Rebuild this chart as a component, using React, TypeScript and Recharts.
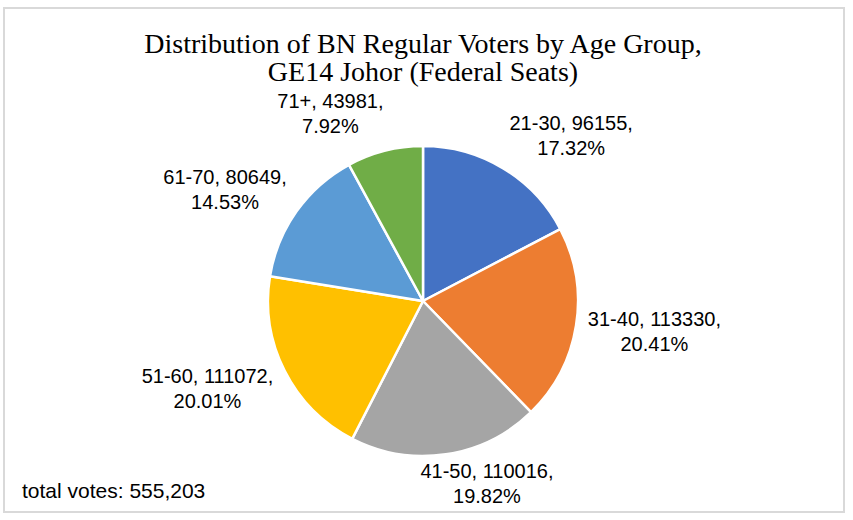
import React from 'react';
import { PieChart, Pie, Cell } from 'recharts';

const ageGroups = ['21-30', '31-40', '41-50', '51-60', '61-70', '71+'];
const voters = [96155, 113330, 110016, 111072, 80649, 43981];
const sliceColors = ['#4472C4', '#ED7D31', '#A5A5A5', '#FFC000', '#5B9BD5', '#70AD47'];
const totalLabel = 'total votes: 555,203';

const total = voters.reduce((a, b) => a + b, 0);
const data = ageGroups.map((name, i) => ({ name, value: voters[i] }));

const LABEL_FONT = '"Liberation Sans", Arial, sans-serif';
const RAD = Math.PI / 180;

const renderLabel = (props: any) => {
  const { cx, cy, midAngle, outerRadius, name, value } = props;
  const s = Math.cos(midAngle * RAD);
  const c = Math.sin(midAngle * RAD);
  const r = outerRadius + 12;
  const px = cx + r * s;
  const py = cy - r * c;
  const line1 = `${name}, ${value},`;
  const line2 = `${((value / total) * 100).toFixed(2)}%`;
  const w = Math.max(line1.length, line2.length) * 9.5;
  const h = 52;
  const fx = Math.max(-1, Math.min(1, s * 4));
  const bx = px + (fx * w) / 2;
  let by = py - (c * h) / 2;
  by = Math.min(by, 509 - h / 2);
  return (
    <text
      x={bx}
      y={by}
      textAnchor="middle"
      fill="#000"
      style={{ fontFamily: LABEL_FONT, fontSize: 20 }}
    >
      <tspan x={bx} y={by - 12.5} dominantBaseline="central">{line1}</tspan>
      <tspan x={bx} y={by + 12.5} dominantBaseline="central">{line2}</tspan>
    </text>
  );
};

const App = () => {
  return (
    <div style={{ position: 'absolute', left: 0, top: 0, width: 853, height: 520, background: '#fff' }}>
      <div
        style={{
          position: 'absolute',
          left: 3,
          top: 7,
          width: 838,
          height: 502,
          border: '2px solid #d9d9d9',
        }}
      />
      <div
        style={{
          position: 'absolute',
          left: 0,
          top: 30,
          width: 846,
          textAlign: 'center',
          fontFamily: '"Liberation Serif", serif',
          fontSize: 28,
          lineHeight: '28px',
          color: '#000',
        }}
      >
        Distribution of BN Regular Voters by Age Group,
        <br />
        GE14 Johor (Federal Seats)
      </div>
      <div style={{ position: 'absolute', left: 0, top: 0 }}>
        <PieChart width={853} height={520} margin={{ top: 0, right: 0, bottom: 0, left: 0 }}>
          <Pie
            data={data}
            dataKey="value"
            nameKey="name"
            cx={423}
            cy={301}
            outerRadius={155}
            startAngle={90}
            endAngle={-270}
            stroke="#fff"
            strokeWidth={2.5}
            label={renderLabel}
            labelLine={false}
            isAnimationActive={false}
          >
            {data.map((d, i) => (
              <Cell key={d.name} fill={sliceColors[i]} />
            ))}
          </Pie>
        </PieChart>
      </div>
      <div
        style={{
          position: 'absolute',
          left: 22,
          top: 479,
          fontFamily: LABEL_FONT,
          fontSize: 21,
          color: '#000',
        }}
      >
        {totalLabel}
      </div>
    </div>
  );
};

export default App;
